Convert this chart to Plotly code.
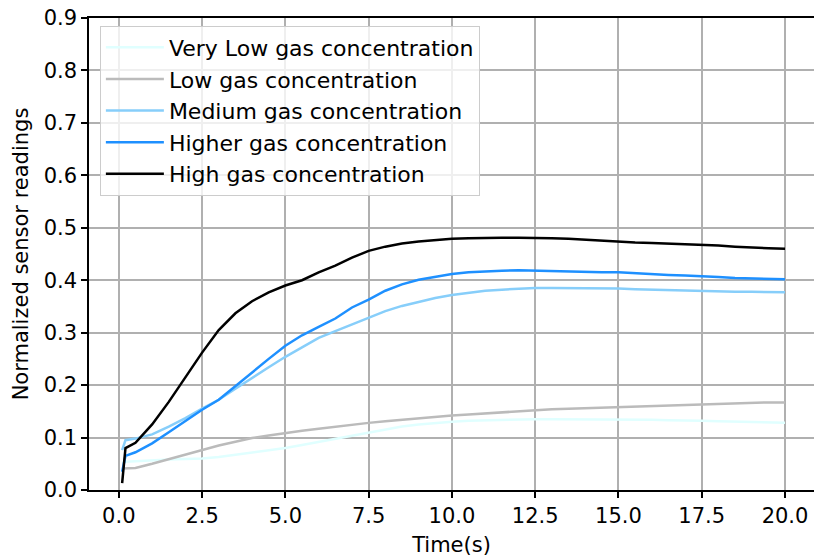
import plotly.graph_objects as go

time_s = [0.1, 0.2, 0.5, 1.0, 1.5, 2.0, 2.5, 3.0, 3.5, 4.0, 4.5, 5.0, 5.5, 6.0, 6.5, 7.0, 7.5,
          8.0, 8.5, 9.0, 9.5, 10.0, 10.5, 11.0, 11.5, 12.0, 12.5, 13.0, 13.5, 14.0, 14.5, 15.0,
          15.5, 16.0, 16.5, 17.0, 17.5, 18.0, 18.5, 19.0, 19.5, 20.0]

very_low = [0.052, 0.054, 0.055, 0.057, 0.058, 0.059, 0.060, 0.063, 0.067, 0.071, 0.075, 0.080,
            0.086, 0.092, 0.098, 0.104, 0.110, 0.116, 0.121, 0.125, 0.128, 0.130, 0.132, 0.133,
            0.134, 0.135, 0.135, 0.135, 0.135, 0.135, 0.135, 0.135, 0.134, 0.134, 0.133, 0.133,
            0.132, 0.131, 0.130, 0.129, 0.128, 0.128]

low = [0.041, 0.041, 0.042, 0.050, 0.059, 0.067, 0.076, 0.085, 0.092, 0.099, 0.104, 0.109,
       0.113, 0.117, 0.121, 0.125, 0.128, 0.131, 0.134, 0.137, 0.140, 0.142, 0.144, 0.146,
       0.148, 0.151, 0.153, 0.154, 0.155, 0.156, 0.158, 0.159, 0.160, 0.161, 0.162, 0.163,
       0.164, 0.165, 0.165, 0.166, 0.167, 0.167]

medium = [0.076, 0.095, 0.098, 0.106, 0.121, 0.137, 0.155, 0.172, 0.193, 0.214, 0.234, 0.254,
          0.272, 0.290, 0.303, 0.316, 0.328, 0.341, 0.351, 0.359, 0.366, 0.372, 0.376, 0.380,
          0.382, 0.384, 0.385, 0.385, 0.385, 0.384, 0.384, 0.384, 0.383, 0.382, 0.381, 0.381,
          0.380, 0.379, 0.378, 0.378, 0.377, 0.377]

higher = [0.035, 0.065, 0.072, 0.089, 0.110, 0.131, 0.153, 0.172, 0.198, 0.225, 0.250, 0.275,
          0.295, 0.311, 0.327, 0.348, 0.363, 0.380, 0.392, 0.401, 0.407, 0.412, 0.415, 0.417,
          0.418, 0.419, 0.418, 0.417, 0.416, 0.416, 0.415, 0.415, 0.413, 0.411, 0.410, 0.409,
          0.408, 0.406, 0.404, 0.403, 0.402, 0.402]

high = [0.013, 0.080, 0.090, 0.125, 0.168, 0.215, 0.262, 0.305, 0.337, 0.360, 0.377, 0.390,
        0.400, 0.415, 0.428, 0.443, 0.456, 0.464, 0.470, 0.474, 0.477, 0.479, 0.480, 0.481,
        0.481, 0.481, 0.481, 0.480, 0.479, 0.477, 0.476, 0.474, 0.472, 0.471, 0.470, 0.469,
        0.467, 0.466, 0.464, 0.462, 0.461, 0.460]

series_names = ["Very Low gas concentration", "Low gas concentration",
                "Medium gas concentration", "Higher gas concentration",
                "High gas concentration"]
series_values = [very_low, low, medium, higher, high]
series_colors = ["#E0FFFF", "#BBBBBB", "#87CEFA", "#1E90FF", "#000000"]

x_ticks = [0.0, 2.5, 5.0, 7.5, 10.0, 12.5, 15.0, 17.5, 20.0]
y_ticks = [0.0, 0.1, 0.2, 0.3, 0.4, 0.5, 0.6, 0.7, 0.8, 0.9]

FONT = "DejaVu Sans"

fig = go.Figure()
for i, (name, vals, col) in enumerate(zip(series_names, series_values, series_colors)):
    fig.add_trace(go.Scatter(x=time_s, y=vals, mode="lines", name=name,
                             legendgroup=f"g{i}",
                             line=dict(color=col, width=2.5)))

fig.update_layout(
    width=814, height=558,
    margin=dict(l=89, r=0, t=18, b=68),
    paper_bgcolor="white", plot_bgcolor="white",
    font=dict(family=FONT, size=21, color="black"),
    showlegend=True,
    legend=dict(x=0.015, y=0.984, xanchor="left", yanchor="top",
                bgcolor="rgba(255,255,255,0.8)", bordercolor="#cccccc", borderwidth=1,
                font=dict(family=FONT, size=22, color="black"),
                tracegroupgap=0, itemwidth=58),
    xaxis=dict(range=[-0.895, 20.87], tickvals=x_ticks, tickformat=".1f",
               showgrid=True, gridcolor="#b0b0b0", gridwidth=1.5,
               showline=True, linecolor="black", linewidth=1.5, mirror=True,
               ticks="outside", ticklen=6, tickwidth=1.5, tickcolor="black",
               zeroline=False, automargin=False, ticklabeloverflow="allow",
               title=dict(text="Time(s)", standoff=10, font=dict(size=21))),
    yaxis=dict(range=[0, 0.9], tickvals=y_ticks, tickformat=".1f",
               showgrid=True, gridcolor="#b0b0b0", gridwidth=1.5,
               showline=True, linecolor="black", linewidth=1.5, mirror=False,
               ticks="outside", ticklen=6, tickwidth=1.5, tickcolor="black",
               zeroline=False, automargin=False, ticklabeloverflow="allow",
               title=dict(text="Normalized sensor readings", standoff=9, font=dict(size=21))),
)

# remove the default 8px page margin so the figure fills the window exactly
fig.write_html("out.html", config={"displayModeBar": False},
               post_script="document.body.style.margin='0';")
